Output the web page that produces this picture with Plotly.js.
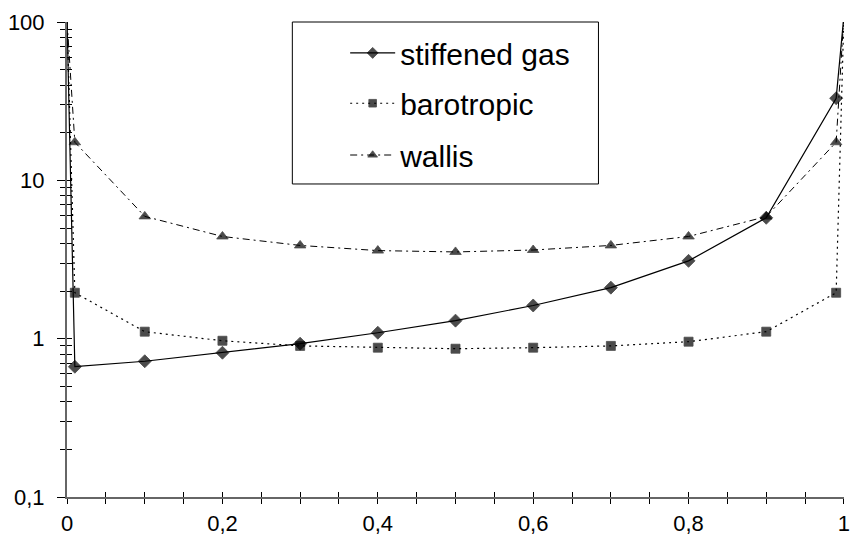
<!DOCTYPE html>
<html>
<head>
<meta charset="utf-8">
<script src="https://cdn.plot.ly/plotly-3.0.1.min.js"></script>
<style>html,body{margin:0;padding:0;background:#fff;}#chart{width:851px;height:544px;}</style>
</head>
<body>
<div id="chart"></div>
<script>
// ---- data ----
const xValues = [0, 0.01, 0.1, 0.2, 0.3, 0.4, 0.5, 0.6, 0.7, 0.8, 0.9, 0.99, 1];
const stiffenedGas = [100, 0.665, 0.72, 0.815, 0.93, 1.09, 1.30, 1.62, 2.1, 3.1, 5.8, 33, 110];
const barotropic = [100, 1.95, 1.107, 0.97, 0.90, 0.877, 0.864, 0.877, 0.90, 0.957, 1.107, 1.95, 110];
const wallis = [100, 17.4, 5.92, 4.42, 3.88, 3.6, 3.53, 3.63, 3.88, 4.42, 5.9, 17.4, 110];
const seriesNames = ["stiffened gas", "barotropic", "wallis"];
const xTickVals = [0, 0.2, 0.4, 0.6, 0.8, 1];
const xTickText = ["0", "0,2", "0,4", "0,6", "0,8", "1"];
const yTickVals = [0.1, 1, 10, 100];
const yTickText = ["0,1", "1", "10", "100"];

const last = xValues.length - 1;
const sizes = s => xValues.map((v, i) => (i === 0 || i === last) ? 0 : s);
const FONT = "Liberation Sans";
const mline = {color: "#000", width: 0.8};

const traces = [
  {x: xValues, y: stiffenedGas, name: seriesNames[0], mode: "lines+markers", legend: "legend",
   line: {color: "#000", width: 1.2, dash: "solid"},
   marker: {symbol: "diamond", size: sizes(10), color: "#000", line: mline}},
  {x: xValues, y: barotropic, name: seriesNames[1], mode: "lines+markers", legend: "legend2",
   line: {color: "#000", width: 1.2, dash: "2px,4px"},
   marker: {symbol: "square", size: sizes(9), color: "#000", line: mline}},
  {x: xValues, y: wallis, name: seriesNames[2], mode: "lines+markers", legend: "legend3",
   line: {color: "#000", width: 1, dash: "7px,4px,2px,4px"},
   marker: {symbol: "triangle-up", size: sizes(10), color: "#000", line: mline}},
  // overlay axes for crossing ticks
  {x: [0.5], y: [1], xaxis: "x2", yaxis: "y2", mode: "markers", marker: {size: 0, opacity: 0},
   showlegend: false, hoverinfo: "skip"}
];

const legendCommon = {font: {family: FONT, size: 30, color: "#000"}, bgcolor: "rgba(0,0,0,0)",
  borderwidth: 0, xanchor: "left", yanchor: "middle", itemwidth: 45};

const XR = [-0.0001, 1.0001];

const layout = {
  width: 851, height: 544,
  margin: {l: 67, r: 7, t: 22, b: 47},
  paper_bgcolor: "#fff", plot_bgcolor: "#fff",
  font: {family: FONT, size: 22, color: "#000"},
  separators: ", ",
  xaxis: {range: XR, tickvals: xTickVals, ticktext: xTickText, ticks: "outside", ticklen: 5,
    tickcolor: "#000", tickwidth: 1, showgrid: false, zeroline: false, showline: true,
    linecolor: "#666", linewidth: 2, ticklabelstandoff: 1, ticklabeloverflow: "allow",
    minor: {dtick: 0.05, tick0: 0, ticks: "outside", ticklen: 5, tickcolor: "#000", showgrid: false}},
  yaxis: {type: "log", range: [-1, 2], tickvals: yTickVals, ticktext: yTickText, ticks: "outside",
    ticklen: 8, tickcolor: "#000", tickwidth: 1, showgrid: false, zeroline: false, showline: true,
    linecolor: "#666", linewidth: 2, ticklabelstandoff: 8, ticklabeloverflow: "allow",
    minor: {dtick: "D1", ticks: "outside", ticklen: 5, tickcolor: "#000", showgrid: false}},
  xaxis2: {overlaying: "x", range: XR, tickvals: xTickVals, ticks: "inside", ticklen: 5,
    tickcolor: "#000", showticklabels: false, showgrid: false, zeroline: false, showline: false,
    side: "bottom", anchor: "y2",
    minor: {dtick: 0.05, tick0: 0, ticks: "inside", ticklen: 5, tickcolor: "#000", showgrid: false}},
  yaxis2: {overlaying: "y", type: "log", range: [-1, 2], tickvals: yTickVals, ticks: "inside",
    ticklen: 5, tickcolor: "#000", showticklabels: false, showgrid: false, zeroline: false,
    showline: false, side: "left", anchor: "x2",
    minor: {dtick: "D1", ticks: "inside", ticklen: 5, tickcolor: "#000", showgrid: false}},
  legend: Object.assign({x: 0.358, y: 0.935}, legendCommon),
  legend2: Object.assign({x: 0.358, y: 0.829}, legendCommon),
  legend3: Object.assign({x: 0.358, y: 0.72}, legendCommon),
  shapes: [{type: "rect", xref: "paper", yref: "paper", x0: 0.29, x1: 0.684, y0: 0.659, y1: 1.0,
    line: {color: "#000", width: 1}, fillcolor: "#fff", layer: "below"}],
  showlegend: true
};

Plotly.newPlot("chart", traces, layout, {displayModeBar: false, staticPlot: true});
</script>
</body>
</html>
